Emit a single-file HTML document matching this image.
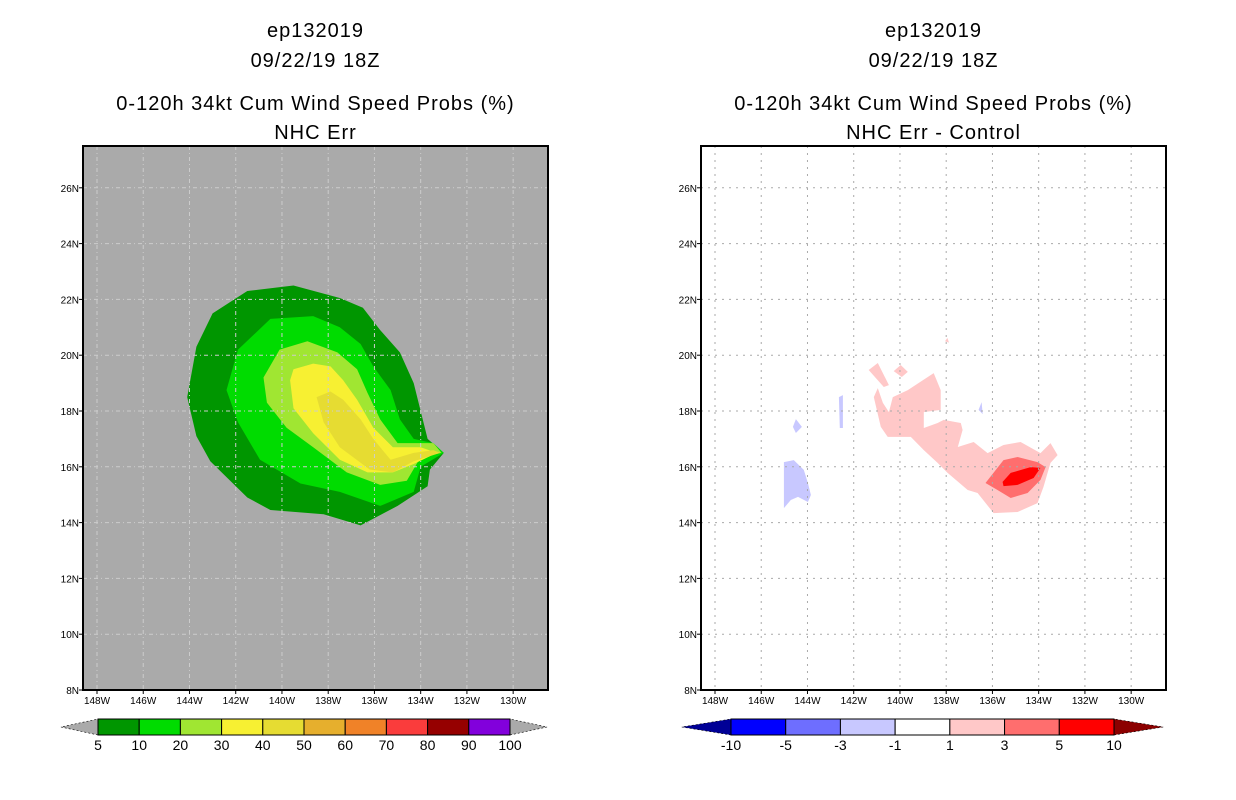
<!DOCTYPE html>
<html><head><meta charset="utf-8"><style>
body{margin:0;background:#fff;}
svg{display:block;font-family:"Liberation Sans",sans-serif;}
</style></head><body>
<svg id="s" width="1236" height="800" viewBox="0 0 1236 800" xmlns="http://www.w3.org/2000/svg"></svg>
<script>
const latTicks=[8,10,12,14,16,18,20,22,24,26];
const lonTicks=[148,146,144,142,140,138,136,134,132,130];
// Left panel contour polygons [lonW, latN]
const p5=[[141.5,22.3],[139.5,22.5],[137.5,22.05],[136.5,21.7],[135.75,20.9],[134.9,20.1],[134.3,19.0],[133.7,17.0],[133.0,16.5],[133.6,15.9],[133.7,15.3],[135.0,14.6],[136.6,13.9],[138.2,14.3],[140.5,14.45],[141.5,14.9],[143.1,16.2],[143.7,17.1],[144.1,18.5],[143.7,20.3],[143.0,21.5]];
const p10=[[140.5,21.3],[138.65,21.4],[137.5,21.0],[136.6,20.4],[136.05,19.6],[135.3,18.75],[134.9,17.7],[134.3,17.0],[133.45,16.85],[133.0,16.5],[134.0,16.0],[134.3,15.1],[135.75,14.6],[137.5,15.1],[139.2,15.4],[140.95,16.25],[141.9,17.6],[142.4,18.75],[141.9,20.2]];
const p20=[[140.1,20.2],[138.9,20.5],[137.6,20.1],[136.75,19.5],[136.3,18.65],[135.75,17.7],[135.0,16.85],[133.45,16.85],[133.1,16.5],[134.0,16.35],[134.6,15.5],[135.75,15.35],[137.2,15.8],[138.65,16.7],[139.8,17.4],[140.65,18.3],[140.8,19.2]];
const p30=[[139.5,19.5],[138.65,19.7],[137.9,19.6],[137.35,19.1],[136.75,18.4],[136.05,17.4],[135.2,16.7],[134.0,16.7],[133.3,16.5],[134.3,16.1],[135.2,15.8],[136.3,15.8],[137.5,16.25],[138.65,17.2],[139.5,18.1],[139.65,19.1]];
const p40=[[138.5,18.5],[137.9,18.7],[137.35,18.4],[136.6,17.7],[136.05,17.0],[135.3,16.25],[134.3,16.5],[133.45,16.6],[133.15,16.5],[134.3,16.2],[135.2,15.8],[136.2,15.9],[137.5,16.7],[138.2,17.6]];
// Right panel difference polygons
const d1a=[[141.13,18.5],[140.96,18.82],[140.74,18.29],[140.48,17.96],[140.31,18.5],[139.66,18.75],[138.54,19.36],[138.24,18.75],[138.24,18.04],[138.97,17.96],[138.97,17.39],[138.37,17.57],[138.11,17.68],[137.37,17.57],[137.29,17.32],[137.5,16.71],[136.81,16.89],[136.21,16.49],[135.52,16.78],[134.78,16.89],[133.92,16.49],[133.49,16.85],[133.18,16.42],[133.49,16.14],[133.79,15.28],[134.05,14.7],[134.91,14.38],[135.95,14.34],[136.64,15.06],[137.07,15.17],[137.94,15.78],[138.37,16.14],[138.97,16.6],[139.53,17.07],[140.53,17.07],[140.83,17.43]];
const d1b=[[141.35,19.47],[140.96,19.72],[140.48,18.93],[140.7,18.86]];
const d1c=[[140.27,19.43],[139.97,19.65],[139.66,19.4],[139.92,19.22]];
const d1d=[[138.05,20.5],[137.95,20.62],[137.88,20.45]];
const d3=[[136.3,15.42],[135.52,16.24],[134.91,16.35],[134.05,16.17],[133.7,15.99],[133.92,15.53],[134.48,15.06],[135.21,14.88],[135.78,15.17]];
const d5=[[135.56,15.46],[135.21,15.78],[134.35,15.99],[133.92,15.96],[134.22,15.6],[134.91,15.35],[135.52,15.31]];
const n1a=[[145.02,16.17],[144.59,16.24],[144.16,15.89],[143.98,15.42],[143.85,14.99],[143.98,14.74],[144.41,14.92],[144.72,14.81],[145.02,14.52]];
const n1b=[[144.63,17.43],[144.5,17.71],[144.24,17.43],[144.5,17.21]];
const n1c=[[142.64,18.5],[142.47,18.57],[142.47,17.39],[142.6,17.39]];
const n1d=[[136.6,18.04],[136.47,18.32],[136.42,17.89]];
const leftLevels=["5","10","20","30","40","50","60","70","80","90","100"];
const leftColors=["#009600","#00dc00","#a0e632","#f7f032","#e6dc32","#e6af2d","#f08228","#fa3c3c","#960000","#8200dc"];
const rightLevels=["-10","-5","-3","-1","1","3","5","10"];
const rightColors=["#0000ff","#6e6eff","#c8c8ff","#ffffff","#ffc8c8","#ff6e6e","#ff0000"];

const S=document.getElementById('s');const NS="http://www.w3.org/2000/svg";
function mk(t,a,p){const e=document.createElementNS(NS,t);for(const k in a)e.setAttribute(k,a[k]);(p||S).appendChild(e);return e;}
const Y0=690,PY=27.9,L0=146,R0=548;
function panel(x0,name,bg,titleLines,gridStyle,polys){
  const g=mk('g',{});
  
  
  const xs=lon=>x0+14+(148-lon)*23.12, ys=lat=>Y0-(lat-8)*PY;
  const cx=x0+232.5;
  const tl=[[30,"ep132019"],[60,"09/22/19 18Z"],[103,titleLines[0]],[132,titleLines[1]]];
  tl.forEach((t,i)=>{const e=mk('text',{x:cx,y:t[0]+7,'text-anchor':'middle','font-size':'20',fill:'#000','letter-spacing':'1'},g);e.textContent=t[1];
    
    });
  const bgR=mk('rect',{x:x0,y:L0,width:465,height:544,fill:bg},g);
  
  
  polys.forEach(pp=>{const e=mk('polygon',{points:pp[0].map(p=>xs(p[0]).toFixed(1)+','+ys(p[1]).toFixed(1)).join(' '),fill:pp[1]},g);
    
    });
  lonTicks.forEach(l=>{const x=xs(l);mk('line',{x1:x,y1:L0,x2:x,y2:Y0,stroke:gridStyle[0],'stroke-dasharray':gridStyle[1],'stroke-width':1},g);
    mk('line',{x1:x,y1:Y0,x2:x,y2:Y0+4,stroke:'#000'},g);
    const t=mk('text',{x:x,y:Y0+14,'text-anchor':'middle','font-size':'10'},g);t.textContent=l+'W';
    
    });
  latTicks.forEach(l=>{const y=ys(l);if(l>8)mk('line',{x1:x0,y1:y,x2:x0+465,y2:y,stroke:gridStyle[0],'stroke-dasharray':gridStyle[1],'stroke-width':1},g);
    mk('line',{x1:x0-4,y1:y,x2:x0,y2:y,stroke:'#000'},g);
    const t=mk('text',{x:x0-4,y:y+4,'text-anchor':'end','font-size':'10'},g);t.textContent=l+'N';
    
    });
  mk('rect',{x:x0,y:L0,width:465,height:544,fill:'none',stroke:'#000','stroke-width':2},g);
}
panel(83,'left-map-panel','#aaaaaa',["0-120h 34kt Cum Wind Speed Probs (%)","NHC Err"],['#cccccc','4 3 1 3'],
 [[p5,leftColors[0],'contour-5'],[p10,leftColors[1],'contour-10'],[p20,leftColors[2],'contour-20'],[p30,leftColors[3],'contour-30'],[p40,leftColors[4],'contour-40']]);
panel(701,'right-map-panel','#ffffff',["0-120h 34kt Cum Wind Speed Probs (%)","NHC Err - Control"],['#aaaaaa','2 5'],
 [[d1a,rightColors[4],'diff-pos-1'],[d1b,rightColors[4],'diff-pos-1b'],[d1c,rightColors[4],'diff-pos-1c'],[d1d,rightColors[4],'diff-pos-1d'],[d3,rightColors[5],'diff-pos-3'],[d5,rightColors[6],'diff-pos-5'],
  [n1a,rightColors[2],'diff-neg-1'],[n1b,rightColors[2],'diff-neg-1b'],[n1c,rightColors[2],'diff-neg-1c'],[n1d,rightColors[2],'diff-neg-1d']]);

function cbar(x1,x2,y,h,colors,levels,lc,rc,name){
  const g=mk('g',{});
  
  
  const n=colors.length,w=(x2-x1)/n,tw=w*0.9;
  mk('polygon',{points:`${x1},${y} ${x1},${y+h} ${x1-tw},${y+h/2}`,fill:lc,stroke:'#000','stroke-width':0.6,'stroke-dasharray':'2 2'},g);
  mk('polygon',{points:`${x2},${y} ${x2},${y+h} ${x2+tw},${y+h/2}`,fill:rc,stroke:'#000','stroke-width':0.6,'stroke-dasharray':'2 2'},g);
  colors.forEach((c,i)=>{const r=mk('rect',{x:x1+i*w,y:y,width:w,height:h,fill:c,stroke:'#000','stroke-width':1},g);
    
    });
  levels.forEach((l,i)=>{const t=mk('text',{x:x1+i*w,y:y+h+15,'text-anchor':'middle','font-size':'14'},g);t.textContent=l;
    
    });
}
cbar(98,510,719,16,leftColors,leftLevels,'#aaaaaa','#aaaaaa','left-colorbar');
cbar(731,1114,719,16,rightColors,rightLevels,'#000096','#8c0000','right-colorbar');
</script>
</body></html>
